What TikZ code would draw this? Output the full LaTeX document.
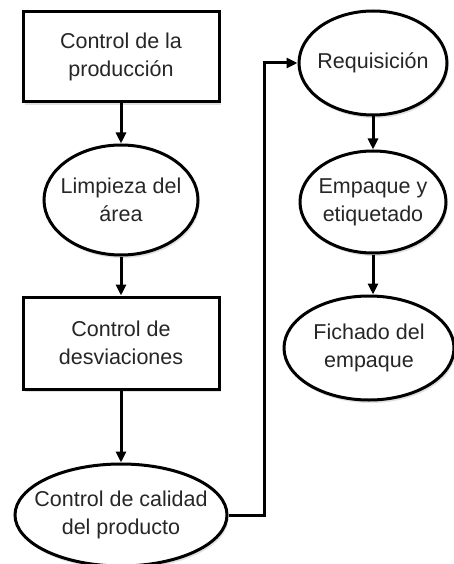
\documentclass[tikz,border=0pt]{standalone}
\usepackage{fontspec}
\setmainfont{Liberation Sans}
\usetikzlibrary{shapes.geometric,arrows.meta,shadows}
\begin{document}
\begin{tikzpicture}[x=1pt,y=-1pt,
  shape line/.style={line width=3pt, draw=black, fill=white,
     drop shadow={shadow xshift=1.5pt, shadow yshift=-3pt, opacity=0.12, fill=black}},
  stepbox/.style={shape line, rectangle, minimum width=196pt, minimum height=90pt, inner sep=0pt},
  oval/.style={shape line, ellipse, inner sep=0pt},
  txt/.style={align=center, text=black!85, font=\fontsize{21.5}{28}\selectfont, inner sep=0pt},
  arr/.style={line width=3pt, -{Triangle[length=11pt,width=10pt]}}]
\useasboundingbox (0,0) rectangle (454,564);
% left column
\node[stepbox] (b1) at (121,57) {};
\node[txt] (t1) at (b1) {Control de la\\producción};
\node[oval, minimum width=154pt, minimum height=110pt] (e1) at (121,200) {};
\node[txt] (t2) at (e1) {Limpieza del\\área};
\node[stepbox, minimum height=92pt] (b2) at (121,343) {};
\node[txt] (t3) at (b2) {Control de\\desviaciones};
\node[oval, minimum width=212pt, minimum height=102pt] (cal) at (121,515) {};
\node[txt] (t4) at (cal) {Control de calidad\\del producto};
% right column
\node[oval, minimum width=148pt, minimum height=104pt] (req) at (373,63) {};
\node[txt] (t5) at (req) {Requisición};
\node[oval, minimum width=146pt, minimum height=102pt] (emp) at (373,202) {};
\node[txt] (t6) at (emp) {Empaque y\\etiquetado};
\node[oval, minimum width=170pt, minimum height=104pt] (fich) at (369,348) {};
\node[txt] (t7) at (fich) {Fichado del\\empaque};
% connectors
\draw[arr] (b1) -- (e1);
\draw[arr] (e1) -- (b2);
\draw[arr] (b2) -- (cal);
\draw[arr] (cal.east) -- ++(36,0) |- (req.west);
\draw[arr] (req) -- (emp);
\draw[arr] (emp.south) -- (emp.south |- fich.north);
\end{tikzpicture}
\end{document}
